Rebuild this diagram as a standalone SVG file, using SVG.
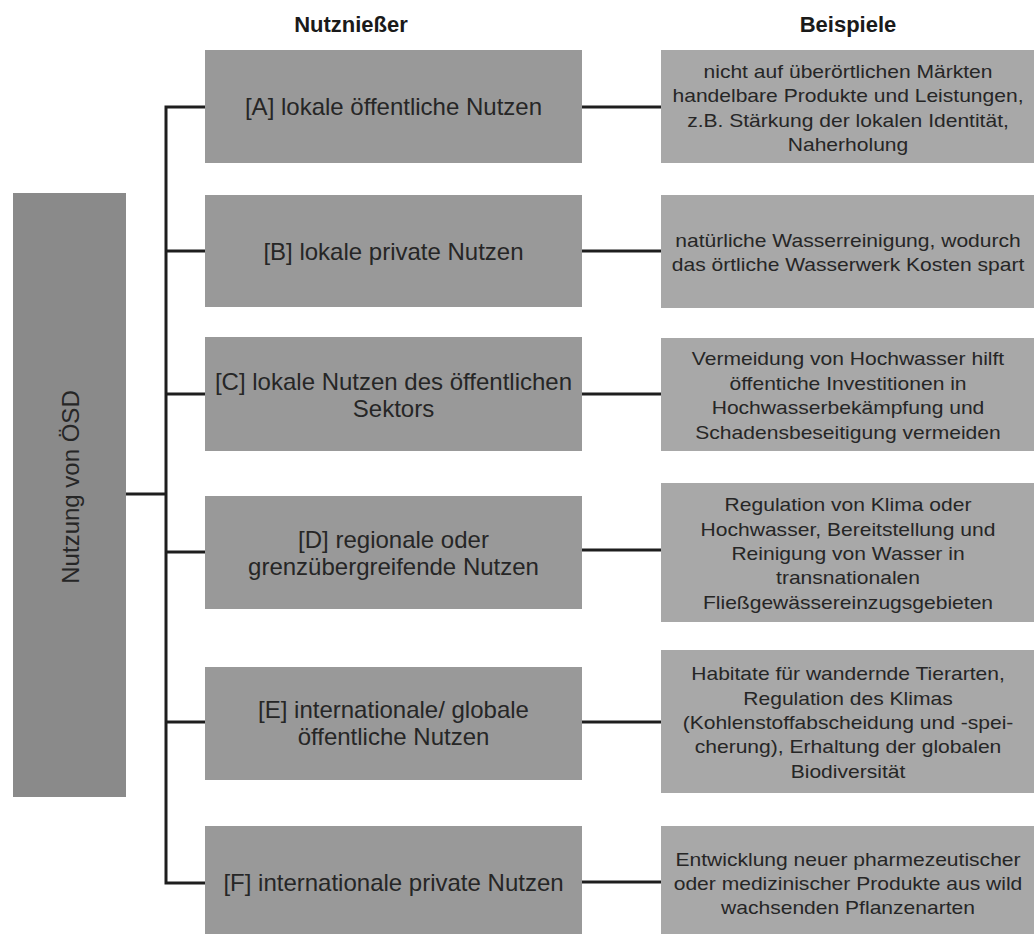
<svg xmlns="http://www.w3.org/2000/svg" width="1034" height="934" viewBox="0 0 1034 934">
<style>
text{font-family:"Liberation Sans",Arial,sans-serif;fill:#262626;text-anchor:middle}
.h{font-size:22px;font-weight:bold;fill:#1a1a1a}
.m{font-size:24px}
.r{font-size:18px}
.root{fill:#8a8a8a}
.mid{fill:#999999}
.ex{fill:#a8a8a8}
.c{stroke:#1e1e1e;stroke-width:3;fill:none}
</style>
<rect width="1034" height="934" fill="#ffffff"/>
<text class="h" x="351" y="32">Nutznießer</text>
<text class="h" x="848" y="32">Beispiele</text>

<g id="connectors">
<path class="c" d="M126,494 H166"/>
<path class="c" d="M205,107 H166 V883 H205"/>
<path class="c" d="M166,251 H205 M166,394 H205 M166,552 H205 M166,722 H205"/>
<path class="c" d="M582,107 H661 M582,251 H661 M582,394 H661 M582,550 H661 M582,722 H661 M582,882 H661"/>
</g>

<g id="root">
<rect class="root" x="13" y="193" width="113" height="604"/>
<text class="m" x="70" y="495.5" transform="rotate(-90 70 487)">Nutzung von ÖSD</text>
</g>

<g id="nodeA">
<rect class="mid" x="205" y="50" width="377" height="113"/>
<text class="m" x="393.5" y="115">[A] lokale öffentliche Nutzen</text>
</g>
<g id="nodeB">
<rect class="mid" x="205" y="195" width="377" height="112"/>
<text class="m" x="393.5" y="259.5">[B] lokale private Nutzen</text>
</g>
<g id="nodeC">
<rect class="mid" x="205" y="337" width="377" height="114"/>
<text class="m" x="393.5" y="390">[C] lokale Nutzen des öffentlichen</text>
<text class="m" x="393.5" y="417">Sektors</text>
</g>
<g id="nodeD">
<rect class="mid" x="205" y="496" width="377" height="113"/>
<text class="m" x="393.5" y="547.5">[D] regionale oder</text>
<text class="m" x="393.5" y="574.5">grenzübergreifende Nutzen</text>
</g>
<g id="nodeE">
<rect class="mid" x="205" y="667" width="377" height="113"/>
<text class="m" x="393.5" y="718">[E] internationale/ globale</text>
<text class="m" x="393.5" y="745">öffentliche Nutzen</text>
</g>
<g id="nodeF">
<rect class="mid" x="205" y="826" width="377" height="113"/>
<text class="m" x="393.5" y="891">[F] internationale private Nutzen</text>
</g>

<g id="exA">
<rect class="ex" x="661" y="50" width="380" height="113"/>
<g transform="translate(848 0) scale(1.17 1)">
<text class="r" x="0" y="78">nicht auf überörtlichen Märkten</text>
<text class="r" x="0" y="102.4">handelbare Produkte und Leistungen,</text>
<text class="r" x="0" y="126.8">z.B. Stärkung der lokalen Identität,</text>
<text class="r" x="0" y="151.2">Naherholung</text>
</g>
</g>
<g id="exB">
<rect class="ex" x="661" y="195" width="380" height="113"/>
<g transform="translate(848 0) scale(1.17 1)">
<text class="r" x="0" y="247">natürliche Wasserreinigung, wodurch</text>
<text class="r" x="0" y="271.4">das örtliche Wasserwerk Kosten spart</text>
</g>
</g>
<g id="exC">
<rect class="ex" x="661" y="338" width="380" height="113"/>
<g transform="translate(848 0) scale(1.17 1)">
<text class="r" x="0" y="365.4">Vermeidung von Hochwasser hilft</text>
<text class="r" x="0" y="389.8">öffentiche Investitionen in</text>
<text class="r" x="0" y="414.2">Hochwasserbekämpfung und</text>
<text class="r" x="0" y="438.6">Schadensbeseitigung vermeiden</text>
</g>
</g>
<g id="exD">
<rect class="ex" x="661" y="483" width="380" height="139"/>
<g transform="translate(848 0) scale(1.17 1)">
<text class="r" x="0" y="511.2">Regulation von Klima oder</text>
<text class="r" x="0" y="535.6">Hochwasser, Bereitstellung und</text>
<text class="r" x="0" y="560">Reinigung von Wasser in</text>
<text class="r" x="0" y="584.4">transnationalen</text>
<text class="r" x="0" y="608.8">Fließgewässereinzugsgebieten</text>
</g>
</g>
<g id="exE">
<rect class="ex" x="661" y="650" width="380" height="143"/>
<g transform="translate(848 0) scale(1.17 1)">
<text class="r" x="0" y="680.2">Habitate für wandernde Tierarten,</text>
<text class="r" x="0" y="704.6">Regulation des Klimas</text>
<text class="r" x="0" y="729">(Kohlenstoffabscheidung und -spei-</text>
<text class="r" x="0" y="753.4">cherung), Erhaltung der globalen</text>
<text class="r" x="0" y="777.8">Biodiversität</text>
</g>
</g>
<g id="exF">
<rect class="ex" x="661" y="826" width="380" height="113"/>
<g transform="translate(848 0) scale(1.17 1)">
<text class="r" x="0" y="865.6">Entwicklung neuer pharmezeutischer</text>
<text class="r" x="0" y="890">oder medizinischer Produkte aus wild</text>
<text class="r" x="0" y="914.4">wachsenden Pflanzenarten</text>
</g>
</g>
</svg>
